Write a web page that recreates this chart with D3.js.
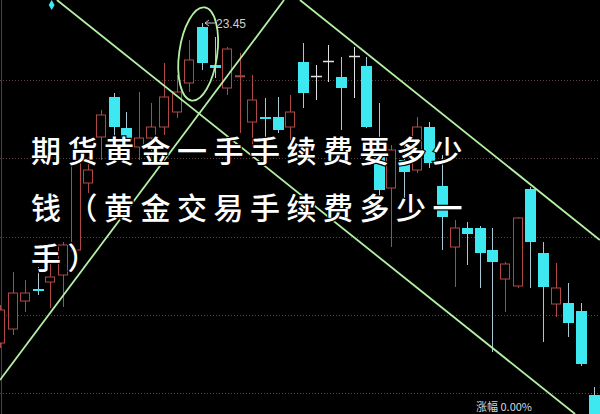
<!DOCTYPE html>
<html><head><meta charset="utf-8">
<script src="https://cdn.jsdelivr.net/npm/d3@7"></script>
<style>html,body{margin:0;padding:0;background:#000;overflow:hidden}</style>
</head><body><svg id="c" width="600" height="414"></svg>
<script>
// ---- data ----
const days = [-1,0,1,2,3,4,5,6,7,8,9,10,11,12,13,14,15,16,17,18,19,20,21,22,23,24,25,26,27,28,29,30,31,32,33,34,35,36,37,38,39,40,41,42,43,44,45,46];
const opens  = [15.45,15.80,16.50,16.80,16.975,17.15,17.775,19.45,20.60,21.60,20.825,20.35,20.575,20.85,21.225,21.95,23.35,22.40,21.825,22.12,20.975,21.10,21.10,20.85,22.475,22.125,22.50,22.10,22.625,22.375,20.20,19.325,20.025,19.775,20.85,19.375,17.85,18.325,18.325,17.775,17.05,16.875,19.30,17.70,16.425,16.45,16.25,14.15];
const closes = [16.275,16.70,16.70,16.79,17.10,17.90,19.95,19.775,21.15,20.85,20.525,20.575,20.85,21.60,21.725,22.525,22.45,22.325,22.80,22.13,21.525,21.09,20.775,21.225,21.70,22.125,22.50,21.825,22.625,20.85,19.275,20.275,19.725,20.85,19.95,18.60,18.325,18.175,17.70,17.475,17.425,18.575,17.975,16.85,16.825,15.95,14.925,13.525];
const highs  = [16.40,17.225,17.025,17.35,17.475,17.975,20.025,20.10,21.275,21.70,21.225,21.725,21.45,22.45,22.15,23.025,23.45,23.10,22.85,22.70,22.15,21.575,21.60,21.65,22.95,22.40,22.90,22.60,22.85,22.60,21.45,20.40,20.40,21.10,20.975,20.15,18.525,18.475,18.375,18.325,17.475,18.60,19.35,17.975,17.45,16.95,16.45,14.35];
const lows   = [15.325,15.65,16.225,16.65,16.325,16.35,17.525,19.20,20.025,20.525,20.275,20.025,19.90,20.65,21.075,21.725,22.275,22.075,21.65,20.70,20.35,20.525,20.70,20.525,21.325,21.525,21.975,20.775,21.575,20.825,19.025,17.85,19.025,19.70,19.825,17.775,16.85,17.40,16.825,15.225,16.225,16.825,16.825,15.475,16.10,15.60,14.875,13.525];
const gridLevels = [22.025, 20.075, 18.10, 16.15, 14.20];
const peakLabel = "23.45";
// trend lines: [dayStart, priceStart, dayEnd, priceEnd]
const trendA = [3.52, 24.025, 44.54, 13.675];
const trendB = [-0.99, 14.525, 21.5, 24.025];
const trendC = [22.76, 24.025, 46.5, 18.025];
const ellipseAt = [14.7, 22.675];
const markerAt = [3.1, 23.9];
const titleLines = ["期货黄金一手手续费要多少", "钱（黄金交易手续费多少一", "手）"];
const footText = "涨幅 0.00%";

// ---- drawing ----
const W = 600, H = 414;
const svg = d3.select("#c");
svg.append("rect").attr("width", W).attr("height", H).attr("fill", "#000");

const x = d3.scaleLinear().domain([0, 46]).range([12.5, 593.5]);
const y = d3.scaleLinear().domain([13.675, 24.025]).range([414, 0]);

// dotted grid
svg.append("g").selectAll("line").data(gridLevels).join("line")
  .attr("x1", 0).attr("x2", W)
  .attr("y1", d => Math.round(y(d)) + 0.5).attr("y2", d => Math.round(y(d)) + 0.5)
  .attr("stroke", "#5e4040").attr("stroke-width", 1).attr("stroke-dasharray", "1,2");

// left frame
svg.append("line").attr("x1", 1.5).attr("x2", 1.5).attr("y1", 0).attr("y2", H)
  .attr("stroke", "#444").attr("stroke-width", 1);

const data = days.map((d, i) => ({d, o: opens[i], c: closes[i], h: highs[i], l: lows[i]}));
const UP = "#b04848", DOWN = "#3ee8f0", DOWNWICK = "#a8c8d8", FLAT = "#e0e0e0";
const bw = 10;
const g = svg.append("g");
data.forEach(k => {
  const cx = Math.round(x(k.d));
  const yt = y(Math.max(k.o, k.c)), yb = y(Math.min(k.o, k.c));
  const yh = y(k.h), yl = y(k.l);
  if (k.c > k.o) {
    g.append("line").attr("x1", cx + 0.5).attr("x2", cx + 0.5).attr("y1", yh).attr("y2", yt).attr("stroke", UP);
    g.append("line").attr("x1", cx + 0.5).attr("x2", cx + 0.5).attr("y1", yb).attr("y2", yl).attr("stroke", UP);
    g.append("rect").attr("x", cx - bw / 2 + 0.5).attr("y", yt).attr("width", bw - 1).attr("height", Math.max(1, yb - yt))
      .attr("fill", "#000").attr("stroke", UP).attr("stroke-width", 1);
  } else if (k.c < k.o) {
    g.append("line").attr("x1", cx + 0.5).attr("x2", cx + 0.5).attr("y1", yh).attr("y2", yl).attr("stroke", DOWNWICK);
    g.append("rect").attr("x", cx - bw / 2).attr("y", yt).attr("width", bw + 1).attr("height", Math.max(2, yb - yt))
      .attr("fill", DOWN);
  } else {
    g.append("line").attr("x1", cx + 0.5).attr("x2", cx + 0.5).attr("y1", yh).attr("y2", yl).attr("stroke", FLAT);
    g.append("line").attr("x1", cx - bw / 2).attr("x2", cx + bw / 2 + 1).attr("y1", Math.round(yt) + 0.5).attr("y2", Math.round(yt) + 0.5)
      .attr("stroke", FLAT).attr("stroke-width", 1.5);
  }
});

// peak label
const pk = data.find(k => k.h === d3.max(highs));
const px = Math.round(x(pk.d)) + 3, py = y(pk.h);
svg.append("path").attr("d", `M${px},${py} L${px + 10},${py} M${px},${py} l4,-3 M${px},${py} l4,3`)
  .attr("stroke", "#c8c8c8").attr("stroke-width", 1).attr("fill", "none");
svg.append("text").attr("x", px + 11).attr("y", py + 4.5).text(peakLabel)
  .attr("fill", "#cfcfcf").attr("font-family", "Liberation Sans, Arial, sans-serif").attr("font-size", 12);

// cyan marker
svg.append("path").attr("d", d3.symbol(d3.symbolDiamond, 30)())
  .attr("transform", `translate(${x(markerAt[0])},${y(markerAt[1])})`).attr("fill", DOWN);

// trend lines & ellipse
const GREEN = "#b4f0a4";
[trendA, trendB, trendC].forEach(t => {
  svg.append("line").attr("x1", x(t[0])).attr("y1", y(t[1])).attr("x2", x(t[2])).attr("y2", y(t[3]))
    .attr("stroke", GREEN).attr("stroke-width", 1.8);
});
svg.append("ellipse").attr("cx", 0).attr("cy", 0).attr("rx", 19).attr("ry", 47)
  .attr("transform", `translate(${x(ellipseAt[0])},${y(ellipseAt[1])}) rotate(8)`)
  .attr("fill", "none").attr("stroke", GREEN).attr("stroke-width", 1.8);

// title overlay
const tg = svg.append("g").attr("font-family", "Noto Sans CJK SC, sans-serif").attr("font-size", 30)
  .attr("font-weight", 500).attr("letter-spacing", "6.5px");
const baselines = [162, 219, 269];
titleLines.forEach((s, i) => {
  tg.append("text").attr("x", 31).attr("y", baselines[i]).text(s)
    .attr("fill", "#ffffff").attr("stroke", "#000").attr("stroke-width", 2.5).attr("paint-order", "stroke");
});

// footer
svg.append("text").attr("x", 476).attr("y", 411).text(footText)
  .attr("fill", "#d8d8d8").attr("font-family", "Noto Sans CJK SC, sans-serif").attr("font-size", 11);
</script></body></html>
